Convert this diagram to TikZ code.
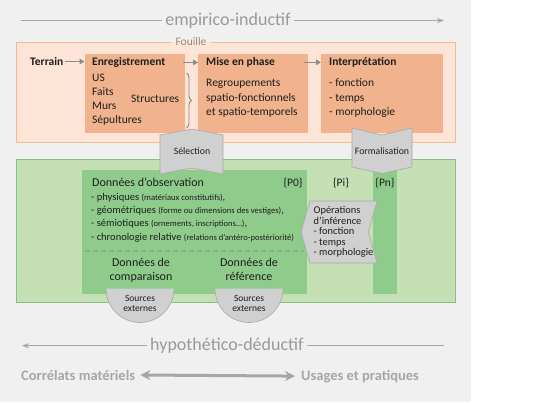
\documentclass[tikz,border=0pt]{standalone}
\usepackage{fontspec}
\setmainfont{Carlito}
\usetikzlibrary{arrows.meta,decorations.pathreplacing,calc}

\definecolor{bggrey}{HTML}{F0F0F0}
\definecolor{orfill}{HTML}{FCE4D6}
\definecolor{orborder}{HTML}{F5B895}
\definecolor{orbox}{HTML}{F1B38E}
\definecolor{grfill}{HTML}{C5E0B4}
\definecolor{grborder}{HTML}{86C186}
\definecolor{grdark}{HTML}{8FCC8B}
\definecolor{shapefill}{HTML}{D0D0D0}
\definecolor{shapeline}{HTML}{A8A8A8}
\definecolor{labgrey}{HTML}{999999}
\definecolor{linegrey}{HTML}{A6A6A6}
\definecolor{flowgrey}{HTML}{8C8C8C}
\definecolor{txtdark}{HTML}{1E1E1E}
\definecolor{fouillecol}{HTML}{A08878}
\definecolor{dashcol}{HTML}{8AAA88}

\newcommand\myfs[1]{\fontsize{#1}{#1}\selectfont}

\begin{document}
\begin{tikzpicture}[x=1pt,y=-1pt,
  every node/.style={inner sep=0pt, text=txtdark},
  tb/.style={font=\myfs{11.5}\bfseries, anchor=base west},
  tr/.style={font=\myfs{11.5}, anchor=base west},
  inbox/.style={fill=orbox, draw=none, anchor=north west},
  dkbox/.style={fill=grdark, draw=none, anchor=north west},
  flow/.style={draw=flowgrey, line width=1.3pt, -{Triangle[length=5pt,width=5.5pt]}},
  greyshape/.style={fill=shapefill, draw=shapeline, line width=0.6pt},
  itm/.style={font=\myfs{10.5}, anchor=base west},
  bigtitle/.style={font=\myfs{18}, text=labgrey, inner xsep=3pt, anchor=base},
  axisline/.style={draw=linegrey, line width=1.3pt},
  botlab/.style={font=\myfs{14.5}\bfseries, text=linegrey, anchor=base west}
]
\useasboundingbox (0,0) rectangle (533,402);
\fill[bggrey] (0,0) rectangle (471,402);

% ---------- empirico-inductif ----------
\node[bigtitle] (emp) at (228,25) {empirico-inductif};
\coordinate (empL) at (21,20.5);
\coordinate (empR) at (444,20.5);
\draw[axisline] (empL) -- (empL -| emp.west);
\draw[axisline, -{Stealth[length=7pt,width=5pt]}] (emp.east |- empR) -- (empR);

% ---------- Fouille ----------
\fill[orfill] (16,42) rectangle (455,142);
\node[font=\myfs{11.5}, text=fouillecol, inner xsep=4pt] (fouille) at (191,42) {Fouille};
\draw[orborder, line width=0.9pt] (fouille.east) -- (455,42) -- (455,142) -- (16,142) -- (16,42) -- (fouille.west);

\node[inbox, minimum width=100.5pt, minimum height=79pt] (enr) at (84.5,54) {};
\node[inbox, minimum width=109.7pt, minimum height=79pt] (mise) at (198,54) {};
\node[inbox, minimum width=122pt, minimum height=79pt] (interp) at (321,54) {};

\node[tb] (terrain) at (30,65.5) {Terrain};
\node[tb] (enrT) at (92,65.5) {Enregistrement};
\node[tr] (us) at (92,81.5) {US};
\node[tr] (faits) at (92,95.5) {Faits};
\node[tr] (murs) at (92,109.5) {Murs};
\node[tr] (sep) at (92,123) {Sépultures};
\node[tr] (struct) at (131,102) {Structures};

\node[tb] (miseT) at (206,65.5) {Mise en phase};
\node[tr] (m1) at (206,86) {Regroupements};
\node[tr] (m2) at (206,101) {spatio-fonctionnels};
\node[tr] (m3) at (206,115) {et spatio-temporels};

\node[tb] (intT) at (329,65.5) {Interprétation};
\node[tr] (i1) at (329,86) {- fonction};
\node[tr] (i2) at (329,101) {- temps};
\node[tr] (i3) at (329,115) {- morphologie};

\draw[flow, shorten <=2pt] (terrain.east) -- (terrain.east -| enr.west);
\draw[flow] ($(enr.east |- enrT.east)+(-2.5,0)$) -- (enrT.east -| mise.west);
\draw[flow] ($(mise.east |- miseT.east)+(-4.5,0)$) -- (miseT.east -| interp.west);

\coordinate (brT) at (186.5,73);
\coordinate (brB) at (186.5,128);
\draw[flowgrey, line width=0.9pt, decorate, decoration={brace, amplitude=5pt}] (brT) -- (brB);

% ---------- Green part ----------
\fill[grfill] (16,159) rectangle (455,302);
\draw[grborder, line width=0.9pt] (16,159) rectangle (455,302);
\node[dkbox, minimum width=225pt, minimum height=124pt] (obs) at (82,170) {};
\node[dkbox, minimum width=24pt, minimum height=124pt] (pncol) at (373,170) {};

\node[font=\myfs{12}, anchor=base west] (obsT) at (92,186.5) {Données d’observation};
\node[font=\myfs{11.5}, anchor=base] (p0) at (293,186.5) {\{P0\}};
\node[font=\myfs{11.5}, anchor=base] (pi) at (341,186.5) {\{Pi\}};
\node[font=\myfs{11.5}, anchor=base] (pn) at (385,186.5) {\{Pn\}};

\node[itm] (l1) at (91,200.5) {- physiques {\myfs{8.6}(matériaux constitutifs)},};
\node[itm] (l2) at (91,213.5) {- géométriques {\myfs{8.6}(forme ou dimensions des vestiges)},};
\node[itm] (l3) at (91,226.5) {- sémiotiques {\myfs{8.6}(ornements, inscriptions…)},};
\node[itm] (l4) at (91,240) {- chronologie relative {\myfs{8.6}(relations d’antéro-postériorité)}};

\coordinate (dsh) at (0,251);
\draw[dashcol, line width=1.1pt, dash pattern=on 5pt off 3pt] ($(obs.west |- dsh)+(3,0)$) -- ($(obs.east |- dsh)+(-3,0)$);

\node[font=\myfs{12}, anchor=base] (dc1) at (141,266.5) {Données de};
\node[font=\myfs{12}, anchor=base] (dc2) at (141,280.5) {comparaison};
\node[font=\myfs{12}, anchor=base] (dr1) at (249,266.5) {Données de};
\node[font=\myfs{12}, anchor=base] (dr2) at (249,280.5) {référence};

% Opérations d'inférence
\filldraw[greyshape] (310,201) -- (377,201) -- (368.5,232) -- (377,263) -- (310,263) -- (301,232) -- cycle;
\foreach \t/\yy [count=\k] in {Opérations/213.5, d’inférence/224, - fonction/234.5, - temps/245, - morphologie/255.5}
  \node[font=\myfs{10.4}, anchor=base west] (op\k) at (313.5,\yy) {\t};

% Sources externes
\foreach \cx/\nm in {140/srcA, 249/srcB}{
  \fill[shapefill] (\cx-34,288.5) arc[start angle=180, end angle=0, radius=34] -- cycle;
  \draw[shapeline, line width=0.6pt] (\cx-34,288.5) arc[start angle=180, end angle=0, radius=34];
  \node[font=\myfs{9.5}, anchor=base] (\nm1) at (\cx,301.5) {Sources};
  \node[font=\myfs{9.5}, anchor=base] (\nm2) at (\cx,311.5) {externes};
}

% Sélection (up) and Formalisation (down)
\filldraw[greyshape] (160,135) -- (192,129) -- (223,135) -- (223,174) -- (192,168) -- (160,174) -- cycle;
\node[font=\myfs{9.8}] (sel) at (192,151.5) {Sélection};
\filldraw[greyshape] (352,128) -- (382,135) -- (412,128) -- (412,167) -- (382,173.5) -- (352,167) -- cycle;
\node[font=\myfs{9.8}] (form) at (382,151) {Formalisation};

% ---------- hypothético-déductif ----------
\node[bigtitle] (hyp) at (227,350.5) {hypothético-déductif};
\coordinate (hypL) at (22,345.7);
\coordinate (hypR) at (444,345.7);
\draw[axisline, -{Stealth[length=7pt,width=5pt]}] (hypL -| hyp.west) -- (hypL);
\draw[axisline] (hyp.east |- hypR) -- (hypR);

\node[botlab] (corr) at (21,380) {Corrélats matériels};
\node[botlab] (usa) at (301,380) {Usages et pratiques};
\draw[draw=linegrey, line width=3pt, {Stealth[length=10pt,width=10pt]}-{Stealth[length=10pt,width=10pt]}, shorten <=5pt, shorten >=6pt] (corr.east) -- (usa.west);
\end{tikzpicture}
\end{document}
